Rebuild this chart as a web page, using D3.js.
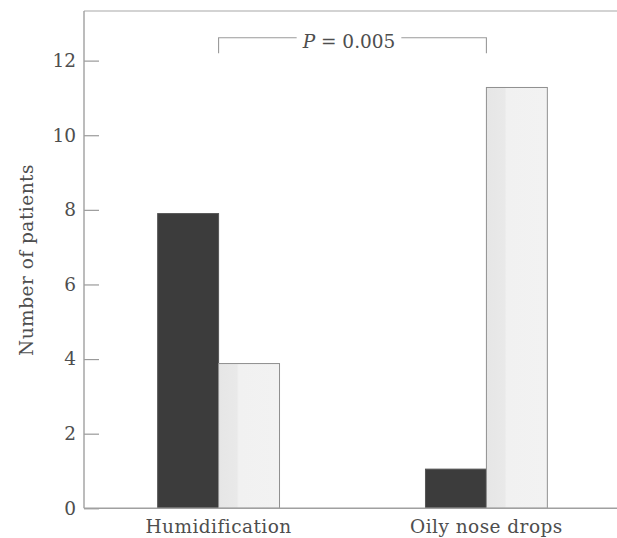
<!DOCTYPE html>
<html>
<head>
<meta charset="utf-8">
<script src="https://cdn.jsdelivr.net/npm/d3@7"></script>
<style>
  html, body { margin: 0; padding: 0; background: #fff; }
  svg { display: block; }
  text { font-family: "DejaVu Serif", "Liberation Serif", serif; fill: #4e4e4e; }
</style>
</head>
<body>
<svg id="chart" width="617" height="538"></svg>
<script>
// ---- data ----
const categories = ["Humidification", "Oily nose drops"];
const seriesKeys = ["dark", "light"];
const darkValues = [7.9, 1.05];
const lightValues = [3.88, 11.28];
const yTicks = [0, 2, 4, 6, 8, 10, 12];
const yLabel = "Number of patients";
const pLabel = "0.005";

const rows = categories.map((c, i) => ({ category: c, dark: darkValues[i], light: lightValues[i] }));

// ---- layout ----
(function () {
const svg = d3.select("#chart");
const mLeft = 84, mRight = 621, mTop = 11, mBottom = 508.3;
const yMax = 13.33;
const fs = 18.5;

const x0 = d3.scaleBand().domain(categories).range([mLeft, mRight])
  .paddingInner(0.545).paddingOuter(0.275);
const x1 = d3.scaleBand().domain(seriesKeys).range([0, x0.bandwidth()]);
const y = d3.scaleLinear().domain([0, yMax]).range([mBottom, mTop]);

const fills = { dark: "#3c3c3c", light: "url(#lightFill)" };

const defs = svg.append("defs");
const grad = defs.append("linearGradient").attr("id", "lightFill")
  .attr("x1", "0").attr("x2", "1").attr("y1", "0").attr("y2", "0");
grad.append("stop").attr("offset", "0").attr("stop-color", "#e6e6e6");
grad.append("stop").attr("offset", "0.3").attr("stop-color", "#e9e9e9");
grad.append("stop").attr("offset", "0.33").attr("stop-color", "#f1f1f1");
grad.append("stop").attr("offset", "1").attr("stop-color", "#f2f2f2");

// frame line (top)
svg.append("line").attr("x1", mLeft).attr("x2", 617).attr("y1", mTop).attr("y2", mTop)
  .attr("stroke", "#a8a8a8").attr("stroke-width", 1.2);

// bars
const groups = svg.append("g").selectAll("g").data(rows).join("g")
  .attr("transform", d => `translate(${x0(d.category)},0)`);
groups.selectAll("rect").data(d => seriesKeys.map(k => ({ key: k, value: d[k] }))).join("rect")
  .attr("x", d => x1(d.key))
  .attr("width", x1.bandwidth())
  .attr("y", d => y(d.value))
  .attr("height", d => y(0) - y(d.value))
  .attr("fill", d => fills[d.key])
  .attr("stroke", d => d.key === "dark" ? "#555" : "#8f8f8f")
  .attr("stroke-width", 1);

// y axis
const yAxis = d3.axisLeft(y).tickValues(yTicks).tickSize(-15).tickPadding(8).tickFormat(d3.format("d"));
const gy = svg.append("g").attr("transform", `translate(${mLeft},0)`).call(yAxis);
gy.select(".domain").remove();
gy.selectAll(".tick line").attr("stroke", "#9a9a9a").attr("stroke-width", 1.2);
gy.selectAll(".tick text").attr("font-size", fs).attr("fill", "#4e4e4e")
  .style("font-family", "'DejaVu Serif', serif");
svg.append("line").attr("x1", mLeft).attr("x2", mLeft).attr("y1", mTop).attr("y2", mBottom)
  .attr("stroke", "#a0a0a0").attr("stroke-width", 1.4);

// x axis
const xAxis = d3.axisBottom(x0).tickSize(0).tickPadding(12);
const gx = svg.append("g").attr("transform", `translate(0,${mBottom})`).call(xAxis);
gx.select(".domain").remove();
gx.selectAll(".tick text").attr("font-size", fs).attr("fill", "#4e4e4e")
  .attr("letter-spacing", 0.45)
  .style("font-family", "'DejaVu Serif', serif");
svg.append("line").attr("x1", mLeft).attr("x2", 617).attr("y1", mBottom).attr("y2", mBottom)
  .attr("stroke", "#a0a0a0").attr("stroke-width", 1.4);

// y label
svg.append("text")
  .attr("transform", `translate(33,260) rotate(-90)`)
  .attr("text-anchor", "middle")
  .attr("font-size", fs)
  .attr("letter-spacing", 0.5)
  .text(yLabel);

// significance bracket
const bx1 = x0(categories[0]) + x0.bandwidth() / 2;
const bx2 = x0(categories[1]) + x0.bandwidth() / 2;
const by = 37.7, bDrop = 53.3;
const ptext = svg.append("text")
  .attr("x", (bx1 + bx2) / 2 - 3.5).attr("y", 47.5)
  .attr("text-anchor", "middle")
  .attr("font-size", fs);
ptext.append("tspan").attr("font-style", "italic").text("P");
ptext.append("tspan").text(" = " + pLabel);
const bb = ptext.node().getBBox();
const bracket = d3.path();
bracket.moveTo(bx1, bDrop); bracket.lineTo(bx1, by); bracket.lineTo(bb.x - 5, by);
bracket.moveTo(bb.x + bb.width + 6, by); bracket.lineTo(bx2, by); bracket.lineTo(bx2, bDrop);
svg.append("path").attr("d", bracket.toString()).attr("fill", "none")
  .attr("stroke", "#9a9a9a").attr("stroke-width", 1.1);
})();
</script>
</body>
</html>
